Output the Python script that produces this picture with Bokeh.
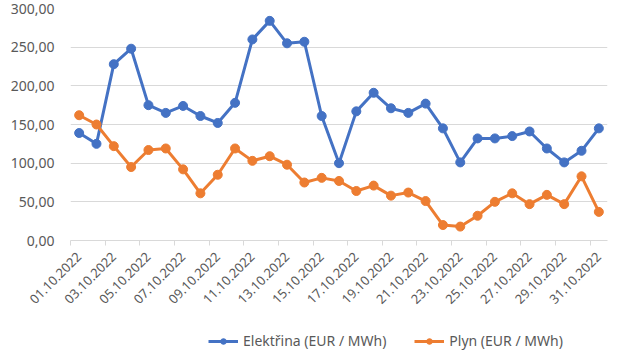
import math
from bokeh.plotting import figure
from bokeh.layouts import column
from bokeh.models import FixedTicker, Legend, LegendItem, ColumnDataSource
from bokeh.embed import file_html
from bokeh.resources import INLINE

dates = ["%02d.10.2022" % d for d in range(1, 32)]
elektrina = [139, 125, 228, 248, 175, 165, 174, 161, 152, 178, 260, 284, 255, 257,
             161, 100, 167, 191, 171, 165, 177, 145, 101, 132, 132, 135, 141, 119,
             101, 116, 145]
plyn = [162, 150, 122, 95, 117, 119, 92, 61, 85, 119, 103, 109, 98, 75,
        81, 77, 64, 71, 58, 62, 51, 20, 18, 32, 50, 61, 47, 59, 47, 83, 37]
y_ticks = [0, 50, 100, 150, 200, 250, 300]
y_labels = ["0,00", "50,00", "100,00", "150,00", "200,00", "250,00", "300,00"]
series_names = ["Elektřina (EUR / MWh)", "Plyn (EUR / MWh)"]
colors = ["#4472C4", "#ED7D31"]

FONT = "Noto Sans"
TXT = "#595959"
GRID = "#d9d9d9"

idx = list(range(len(dates)))
src = ColumnDataSource(dict(x=idx, e=elektrina, g=plyn))

p = figure(width=630, height=330, output_backend="svg", toolbar_location=None,
           x_range=(-0.5, len(dates) - 0.5), y_range=(0, 300),
           min_border_left=70, min_border_right=23, min_border_top=8,
           min_border_bottom=90)
p.outline_line_color = None
p.background_fill_color = "white"
p.border_fill_color = "white"

# y axis
p.yaxis.ticker = FixedTicker(ticks=y_ticks)
p.yaxis.major_label_overrides = {t: l for t, l in zip(y_ticks, y_labels)}
p.yaxis.axis_line_color = None
p.yaxis.major_tick_line_color = None
p.yaxis.minor_tick_line_color = None
p.yaxis.major_label_text_font = FONT
p.yaxis.major_label_text_font_size = "14px"
p.yaxis.major_label_text_color = TXT
p.yaxis.major_label_standoff = 10
p.ygrid.grid_line_color = GRID
p.ygrid.grid_line_width = 1
p.ygrid.ticker = FixedTicker(ticks=y_ticks)

# x axis
major = idx[::2]
minor = [i - 0.5 for i in idx[::2]]
p.xaxis.ticker = FixedTicker(ticks=major, minor_ticks=minor)
p.xaxis.major_label_overrides = {i: dates[i] for i in major}
p.xaxis.major_label_orientation = math.pi / 4
p.xaxis.major_tick_line_color = None
p.xaxis.major_tick_out = 0
p.xaxis.major_tick_in = 0
p.xaxis.minor_tick_line_color = GRID
p.xaxis.minor_tick_out = 5
p.xaxis.minor_tick_in = 0
p.xaxis.axis_line_color = GRID
p.xaxis.major_label_text_font = FONT
p.xaxis.major_label_text_font_size = "13px"
p.xaxis.major_label_text_color = TXT
p.xaxis.major_label_standoff = 9
p.xgrid.grid_line_color = None

p.line("x", "e", source=src, line_color=colors[0], line_width=3)
p.scatter("x", "e", source=src, size=9, fill_color=colors[0], line_color=colors[0])
p.line("x", "g", source=src, line_color=colors[1], line_width=3)
p.scatter("x", "g", source=src, size=9, fill_color=colors[1], line_color=colors[1])

# legend strip (its sample renderers sit outside the visible range)
q = figure(width=630, height=24, output_backend="svg", toolbar_location=None,
           x_range=(0, 1), y_range=(0, 1), min_border=0)
q.axis.visible = False
q.grid.visible = False
q.outline_line_color = None
q.border_fill_color = "white"
hidden = ColumnDataSource(dict(x=[-10, -9], y=[-10, -10]))
items = []
for name, col in zip(series_names, colors):
    lr = q.line("x", "y", source=hidden, line_color=col, line_width=3)
    sr = q.scatter("x", "y", source=hidden, size=9, fill_color=col, line_color=col)
    items.append(LegendItem(label=name, renderers=[lr, sr], index=0))
legend = Legend(items=items, orientation="horizontal", location=(138, 4),
                border_line_color=None, background_fill_alpha=0,
                label_text_font=FONT, label_text_font_size="14px",
                label_text_color=TXT, glyph_width=30, glyph_height=14,
                label_standoff=5, spacing=28, padding=0, margin=0)
q.add_layout(legend)

layout = column(p, q, spacing=0)
open("out.html", "w").write(file_html(layout, INLINE))
